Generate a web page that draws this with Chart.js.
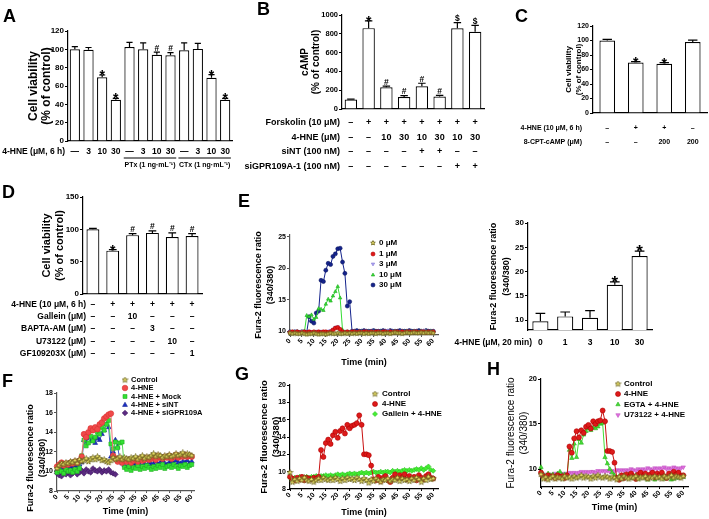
<!DOCTYPE html>
<html>
<head>
<meta charset="utf-8">
<script src="https://cdn.jsdelivr.net/npm/chart.js@4.4.1/dist/chart.umd.min.js"></script>
<style>
  html, body { margin: 0; padding: 0; background: #fff; }
  #fig { position: relative; width: 709px; height: 519px; overflow: hidden; background: #fff; }
  #fig canvas { position: absolute; }
  .tag { position: absolute; font: bold 18px "Liberation Sans", Arial, sans-serif; line-height: 18px; color: #000; }
</style>
</head>
<body>
<div id="fig"></div>
<script>
const FONT = '"Liberation Sans", Arial, sans-serif';
Chart.defaults.font.family = FONT;
Chart.defaults.color = "#000";

// ---- A: cell viability, toxins ----
const aDoseLabels = ["—", "3", "10", "30", "—", "3", "10", "30", "—", "3", "10", "30"];
const aValues = [100, 99.5, 69.5, 45, 102.5, 100, 94, 93.5, 99, 100.5, 69, 45];
const aErrors = [3, 2.5, 2.5, 1.5, 5, 7, 3, 3, 8, 6, 3.5, 1.5];
const aMarks = ["", "", "*", "*", "", "", "#", "#", "", "", "*", "*"];

// ---- B: cAMP ----
const bValues = [100, 860, 232, 128, 242, 132, 858, 822];
const bErrors = [5, 78, 12, 14, 32, 14, 60, 68];
const bMarks = ["", "*", "#", "#", "#", "#", "$", "$"];
const forskolinRow = ["–", "+", "+", "+", "+", "+", "+", "+"];
const bHneRow = ["–", "–", "10", "30", "10", "30", "10", "30"];
const siNTRow = ["–", "–", "–", "–", "+", "+", "–", "–"];
const siGPRRow = ["–", "–", "–", "–", "–", "–", "+", "+"];

// ---- C: 8-CPT-cAMP ----
const cValues = [100, 69.5, 68, 98];
const cErrors = [1.5, 1.5, 1.5, 2.5];
const cMarks = ["", "*", "*", ""];
const cHneRow = ["–", "+", "+", "–"];
const cCptRow = ["–", "–", "200", "200"];

// ---- D: inhibitors ----
const dValues = [100, 67, 91, 94.5, 88, 89.5];
const dErrors = [1.5, 1.5, 2.5, 3, 6.5, 4];
const dMarks = ["", "*", "#", "#", "#", "#"];
const dHneRow = ["–", "+", "+", "+", "+", "+"];
const galleinRow = ["–", "–", "10", "–", "–", "–"];
const baptaRow = ["–", "–", "–", "3", "–", "–"];
const u73122Row = ["–", "–", "–", "–", "10", "–"];
const gfRow = ["–", "–", "–", "–", "–", "1"];

// ---- E right: peak Fura-2 ratio ----
const eBarLabels = ["0", "1", "3", "10", "30"];
const eBarValues = [9.8, 10.8, 10.5, 17.3, 23.2];
const eBarErrors = [1.6, 0.9, 1.5, 0.6, 1.0];
const eBarMarks = ["", "", "", "*", "*"];
const eBarTicks = [10, 15, 20, 25, 30];

// ---- time courses (one reading per minute) ----
const timeMin = [0, 1, 2, 3, 4, 5, 6, 7, 8, 9, 10, 11, 12, 13, 14, 15, 16, 17, 18, 19, 20,
  21, 22, 23, 24, 25, 26, 27, 28, 29, 30, 31, 32, 33, 34, 35, 36, 37, 38, 39, 40,
  41, 42, 43, 44, 45, 46, 47, 48, 49, 50, 51, 52, 53, 54, 55, 56, 57, 58, 59, 60];
const timeTicks = [0, 5, 10, 15, 20, 25, 30, 35, 40, 45, 50, 55, 60];
const eLineTicks = [10, 15, 20, 25];
const hTicks = [10, 15, 20];

const e0 = [9.7, 9.6, 9.7, 9.6, 9.6, 9.7, 9.6, 9.5, 9.6, 9.6,
  9.7, 9.6, 9.5, 9.6, 9.6, 9.5, 9.6, 9.7, 9.6, 9.6,
  9.7, 9.6, 9.6, 9.7, 9.6, 9.7, 9.6, 9.7, 9.6, 9.7,
  9.7, 9.6, 9.7, 9.6, 9.7, 9.7, 9.6, 9.7, 9.7, 9.6,
  9.7, 9.7, 9.6, 9.7, 9.8, 9.7, 9.7, 9.6, 9.7, 9.8,
  9.7, 9.7, 9.8, 9.7, 9.7, 9.8, 9.7, 9.8, 9.7, 9.8, 9.7];
const e1 = [9.8, 9.9, 9.8, 9.9, 9.8, 9.8, 9.9, 9.8, 9.9, 9.8,
  9.9, 9.8, 9.9, 9.8, 9.9, 9.9, 9.8, 9.9, 10.2, 10.5,
  10.6, 10.3, 9.9, 9.8, 9.9, 9.8, 9.9, 9.9, 9.8, 9.9,
  9.8, 9.9, 9.9, 9.8, 9.9, 9.8, 9.9, 9.9, 9.8, 9.9,
  9.9, 9.8, 9.9, 9.8, 9.9, 9.9, 9.8, 9.9, 9.8, 9.9,
  9.9, 9.8, 9.9, 9.9, 9.8, 9.9, 9.9, 9.8, 9.9, 9.8, 9.9];
const e3 = [9.9, 9.9, 10.0, 9.9, 9.9, 10.0, 9.9, 9.9, 10.0, 9.9,
  9.9, 10.0, 9.9, 10.0, 9.9, 9.9, 10.0, 10.1, 10.3, 10.6,
  10.7, 10.2, 10.0, 9.9, 10.0, 9.9, 10.0, 10.0, 9.9, 10.0,
  9.9, 10.0, 10.0, 9.9, 10.0, 10.0, 9.9, 10.0, 9.9, 10.0,
  10.0, 10.1, 9.9, 10.0, 10.0, 9.9, 10.0, 10.0, 9.9, 10.0,
  10.0, 9.9, 10.0, 10.0, 9.9, 10.0, 10.1, 10.0, 9.9, 10.0, 10.0];
const e10 = [9.8, 9.9, 9.8, 9.9, 9.8, 9.9, 9.8, 12.5, 12.3, 12.6,
  11.9, 12.2, 13.6, 13.5, 13.3, 14.3, 15.1, 14.8, 15.6, 16.3,
  17.1, 15.3, 10.2, 9.9, 9.9, 9.8, 9.9, 9.9, 9.8, 9.9,
  9.9, 9.8, 9.9, 9.9, 9.8, 9.9, 9.9, 9.8, 9.9, 9.9,
  9.8, 9.9, 9.9, 9.8, 9.9, 9.9, 9.8, 9.9, 9.9, 9.8,
  9.9, 9.9, 9.8, 9.9, 9.9, 9.8, 9.9, 9.9, 9.8, 9.9, 9.9];
const e30 = [9.9, 9.8, 9.9, 9.9, 9.8, 9.9, 9.9, 9.8, 12.3, 11.6,
  11.3, 12.9, 13.2, 18.1, 17.9, 19.7, 20.8, 20.6, 21.9, 22.3,
  23.1, 23.2, 21.0, 19.2, 14.0, 14.7, 10.0, 10.0, 10.1, 10.0,
  10.0, 10.1, 10.0, 10.0, 10.0, 10.1, 10.0, 10.0, 10.0, 10.1,
  10.0, 10.0, 10.1, 10.0, 10.0, 10.0, 10.1, 10.0, 10.0, 10.0,
  10.1, 10.0, 10.0, 10.0, 10.1, 10.0, 10.0, 10.1, 10.0, 10.0, 10.0];

const fCtl = [10.3, 10.6, 10.8, 10.7, 10.9, 10.8, 11.0, 10.9, 11.1, 10.8,
  11.2, 11.0, 11.1, 11.3, 11.0, 11.2, 11.4, 11.2, 11.5, 11.3,
  11.1, 11.2, 11.0, 10.9, 11.1, 11.4, 11.2, 11.3, 11.5, 11.2,
  11.4, 11.3, 11.2, 11.4, 11.3, 11.5, 11.2, 11.4, 11.6, 11.3,
  11.5, 11.4, 11.6, 11.8, 11.5, 11.7, 11.6, 11.4, 11.6, 11.5,
  11.7, 11.5, 11.6, 11.8, 11.6, 11.7, 11.9, 11.6, 11.8, 11.7, 11.6];
const fHne = [10.5, 10.7, 10.9, 10.6, 10.8, 10.7, 10.9, 10.8, 11.0, 10.9,
  11.1, 11.5, 13.8, 13.5, 14.0, 14.4, 14.2, 14.5, 14.3, 14.8,
  15.0, 15.4, 15.6, 15.8, 15.9, 11.6, 11.3, 11.0, 11.2, 10.9,
  11.1, 11.0, 11.2, 10.9, 11.1, 11.2, 11.0, 11.3, 11.1, 11.2,
  11.4, 11.2, 11.3, 11.5, 11.2, 11.6, 11.4, 11.3, 11.5, 11.4,
  11.6, 11.3, 11.5, 11.7, 11.4, 11.6, 11.5, 11.7, 11.5, 11.6, 11.5];
const fMock = [9.9, 10.1, 10.0, 9.8, 10.2, 10.0, 10.1, 9.9, 10.2, 10.0,
  10.3, 11.6, 13.2, 12.6, 12.9, 13.6, 13.1, 13.5, 14.0, 13.8,
  14.5, 14.2, 14.8, 15.2, 12.8, 12.3, 13.0, 12.4, 12.9, 13.0,
  10.4, 10.2, 10.5, 10.1, 10.4, 10.3, 10.6, 10.2, 10.5, 10.3,
  10.6, 10.4, 10.2, 10.5, 10.3, 10.6, 10.4, 10.7, 10.3, 10.5,
  10.6, 10.4, 10.7, 10.5, 10.3, 10.6, 10.5, 10.7, 10.4, 10.6, 10.7];
const fSiNT = [10.2, 10.0, 10.3, 10.1, 10.4, 10.2, 10.5, 10.3, 10.6, 10.4,
  10.7, 10.9, 13.2, 13.0, 13.4, 13.1, 13.3, 12.9, 13.4, 13.2,
  13.8, 14.2, 14.8, 14.5, 11.5, 12.0, 13.2, 12.5, 11.2, 10.8,
  10.6, 10.4, 10.7, 10.5, 10.8, 10.6, 10.9, 10.7, 10.5, 10.8,
  10.6, 10.9, 10.7, 10.8, 11.0, 10.7, 10.9, 11.1, 10.8, 10.7,
  10.9, 11.0, 10.8, 11.1, 10.9, 10.8, 11.0, 10.9, 11.1, 10.8, 11.0];
const fSiGPR = [9.8, 9.6, 9.5, 9.8, 9.7, 9.9, 9.6, 9.8, 10.0, 9.7,
  9.9, 10.1, 9.8, 10.2, 10.0, 9.9, 10.3, 10.1, 10.0, 10.2,
  9.9, 10.1, 10.0, 10.2, 9.9, 9.8, 9.7];

const gCtl = [9.9, 8.8, 9.1, 8.9, 9.2, 9.0, 9.3, 9.0, 8.9, 9.1,
  8.8, 9.0, 9.2, 9.0, 9.3, 9.1, 9.0, 9.2, 9.0, 9.3,
  9.1, 8.9, 9.2, 9.0, 9.3, 9.1, 9.2, 9.0, 9.3, 9.1,
  8.9, 9.2, 9.0, 8.7, 9.1, 8.9, 9.2, 9.0, 8.8, 9.1,
  9.0, 9.2, 8.9, 9.1, 9.0, 9.3, 8.9, 9.2, 9.0, 9.1,
  8.9, 9.2, 9.0, 9.3, 9.1, 8.8, 9.2, 9.0, 9.4, 9.1, 9.2];
const gHne = [9.4, 9.2, 9.0, 9.3, 9.1, 9.4, 9.0, 9.3, 9.2, 9.1,
  9.3, 9.2, 9.4, 12.5, 11.7, 13.3, 13.7, 13.2, 14.2, 14.6,
  13.9, 14.7, 15.0, 14.4, 15.4, 15.0, 15.3, 15.4, 15.6, 16.5,
  15.4, 12.0, 12.0, 11.9, 10.7, 9.1, 9.0, 9.4, 8.9, 9.3,
  9.5, 9.0, 8.8, 9.3, 9.7, 9.2, 9.6, 9.3, 9.7, 9.1,
  9.5, 9.2, 9.4, 9.0, 9.6, 9.3, 9.1, 9.5, 9.7, 9.3, 9.2];
const gGal = [9.3, 9.2, 9.3, 9.2, 9.4, 9.3, 9.3, 9.4, 9.3, 9.4,
  9.4, 9.5, 9.4, 9.5, 9.5, 9.6, 9.5, 9.6, 9.5, 9.6,
  9.7, 9.6, 9.7, 9.6, 9.7, 9.8, 9.7, 9.8, 9.7, 9.8,
  9.9, 9.8, 9.9, 9.8, 9.9, 10.0, 9.9, 9.9, 10.0, 9.9,
  10.0, 10.0, 9.9, 10.1, 10.0, 10.1, 10.0, 10.1, 10.2, 10.1,
  10.2, 10.1, 10.2, 10.3, 10.2, 10.4, 10.2, 10.4, 10.6, 10.2, 10.1];

const hCtl = [9.4, 8.9, 9.1, 8.8, 9.0, 9.2, 8.9, 9.1, 9.0, 8.9,
  9.2, 9.0, 9.1, 8.9, 9.2, 9.0, 9.1, 9.3, 9.0, 9.2,
  9.1, 8.9, 9.2, 9.0, 9.3, 9.1, 9.0, 9.2, 9.1, 8.9,
  9.1, 9.0, 8.8, 9.1, 8.9, 9.2, 9.0, 8.9, 9.1, 9.0,
  9.2, 8.9, 9.1, 9.0, 9.2, 8.9, 9.1, 9.0, 9.2, 9.0,
  9.1, 8.9, 9.2, 9.0, 9.1, 9.3, 9.0, 9.2, 9.1, 9.0, 9.2];
const hHne = [9.6, 9.2, 9.0, 9.3, 9.1, 9.2, 9.0, 9.3, 9.1, 9.2,
  9.0, 9.3, 12.5, 11.8, 13.4, 14.2, 13.5, 14.3, 14.0, 14.7,
  14.9, 14.5, 15.3, 15.0, 15.3, 15.4, 16.5, 15.3, 12.0, 12.0,
  11.9, 10.7, 9.0, 8.8, 9.3, 9.0, 9.4, 9.1, 9.5, 9.2,
  8.9, 9.4, 9.6, 9.2, 9.5, 9.0, 9.4, 9.6, 9.1, 9.5,
  9.3, 9.6, 9.2, 9.0, 9.5, 9.3, 9.7, 9.4, 9.6, 9.2, 9.3];
const hEgta = [10.2, 9.4, 9.2, 9.5, 9.3, 9.4, 9.2, 9.5, 9.7, 9.3,
  9.4, 9.2, 12.1, 11.2, 12.8, 11.3, 13.3, 12.9, 13.8, 14.2,
  14.5, 14.3, 14.6, 14.5, 14.7, 15.0, 15.1, 11.3, 10.6, 10.0,
  9.6, 9.3, 9.0, 9.2, 8.9, 9.3, 9.1, 9.4, 9.0, 9.2,
  9.3, 8.9, 9.2, 9.4, 9.0, 8.8, 9.3, 9.1, 8.8, 9.2,
  9.0, 9.4, 8.9, 9.1, 9.3, 8.8, 8.9, 9.2, 9.0, 9.3, 9.1];
const hU73 = [9.3, 9.2, 9.4, 9.3, 9.4, 9.3, 9.5, 9.4, 9.5, 9.4,
  9.5, 9.4, 9.6, 9.5, 9.6, 9.5, 9.6, 9.7, 9.6, 9.7,
  9.6, 9.7, 9.7, 9.6, 9.8, 9.7, 9.8, 9.7, 9.8, 9.7,
  9.8, 9.7, 9.9, 9.8, 9.9, 9.8, 9.9, 9.8, 10.0, 9.9,
  9.8, 10.0, 9.9, 10.0, 9.9, 10.1, 10.0, 9.9, 10.1, 10.0,
  10.1, 10.0, 10.2, 10.0, 10.1, 10.0, 10.2, 10.1, 10.0, 10.1, 10.2];

const fig = document.getElementById("fig");

function addCanvas(r) {
  const c = document.createElement("canvas");
  c.width = r.w;
  c.height = r.h;
  c.style.left = r.x + "px";
  c.style.top = r.y + "px";
  c.style.width = r.w + "px";
  c.style.height = r.h + "px";
  fig.appendChild(c);
  return c;
}

// fixes axis box sizes so the plot area lands where the reference has it
function frame(cv, area, yTitle, xTitle) {
  const yLeft = yTitle.x - yTitle.lh / 2;
  const yW = area.l - yLeft;
  const xH = xTitle ? xTitle.y + xTitle.lh / 2 - area.b : 0;
  const zero = (s) => { s.paddingLeft = s.paddingRight = s.paddingTop = s.paddingBottom = 0; };
  return {
    padding: { left: yLeft - cv.x, top: area.t - cv.y, right: cv.x + cv.w - area.r, bottom: cv.y + cv.h - area.b - xH },
    yFit: (s) => { s.width = yW; zero(s); },
    xFit: (s) => { s.height = xH; zero(s); },
  };
}

function yAxis(p, f) {
  const color = p.axisColor || "#000";
  const ax = {
    min: p.yMin,
    max: p.yMax,
    ticks: { stepSize: p.yStep, autoSkip: false, padding: 1, color: "#000",
      font: { size: p.tickSize, weight: "bold" }, callback: (v) => String(v) },
    grid: { drawOnChartArea: false, drawTicks: true, tickLength: 3, color: color, lineWidth: 1 },
    border: { display: true, color: color, width: 1.2 },
    title: { display: false },
    afterFit: f.yFit,
  };
  if (p.yTicks) ax.afterBuildTicks = (s) => { s.ticks = p.yTicks.map((v) => ({ value: v })); };
  return ax;
}

// rotated two-line y title; centred on the axis unless cy is given
function sideTitle(p) {
  const t = p.yTitle, ox = p.cv.x, oy = p.cv.y;
  return {
    id: "sideTitle",
    afterDraw(chart) {
      const ctx = chart.ctx;
      const a = chart.chartArea;
      const cy = t.cy !== undefined ? t.cy - oy : (a.top + a.bottom) / 2;
      ctx.save();
      ctx.font = (t.weight || "bold") + " " + t.size + "px " + FONT;
      ctx.fillStyle = "#000";
      ctx.textAlign = "center";
      ctx.textBaseline = "middle";
      t.text.forEach((line, i) => {
        ctx.save();
        ctx.translate(t.x - ox + i * t.lh, cy);
        ctx.rotate(-Math.PI / 2);
        ctx.fillText(line, 0, 0);
        ctx.restore();
      });
      ctx.restore();
    },
  };
}

function errorBars(errors, marks, markSize) {
  return {
    id: "errorBars",
    afterDatasetsDraw(chart) {
      const ctx = chart.ctx;
      const y = chart.scales.y;
      const vals = chart.data.datasets[0].data;
      ctx.save();
      ctx.strokeStyle = "#000";
      ctx.fillStyle = "#000";
      ctx.lineWidth = 1.2;
      ctx.textAlign = "center";
      ctx.textBaseline = "alphabetic";
      chart.getDatasetMeta(0).data.forEach((bar, i) => {
        const top = y.getPixelForValue(vals[i] + errors[i]);
        const hw = bar.width * 0.3;
        ctx.beginPath();
        ctx.moveTo(bar.x, bar.y);
        ctx.lineTo(bar.x, top);
        ctx.moveTo(bar.x - hw, top);
        ctx.lineTo(bar.x + hw, top);
        ctx.stroke();
        const m = marks[i];
        if (m === "*") {
          ctx.font = "bold " + markSize + "px " + FONT;
          ctx.fillText(m, bar.x, top + markSize * 0.36);
        } else if (m) {
          ctx.font = "bold 8.5px " + FONT;
          ctx.fillText(m, bar.x, top - 1.5);
        }
      });
      ctx.restore();
    },
  };
}

// the +/- treatment table under a bar chart
function tableRows(p) {
  const ox = p.cv.x, oy = p.cv.y;
  return {
    id: "tableRows",
    afterDraw(chart) {
      const ctx = chart.ctx;
      const x = chart.scales.x;
      ctx.save();
      ctx.fillStyle = "#000";
      ctx.strokeStyle = "#000";
      ctx.textBaseline = "middle";
      ctx.font = p.rowFont;
      p.rows.forEach((r) => {
        ctx.textAlign = "right";
        ctx.fillText(r.label, p.labelX - ox, r.y - oy);
        ctx.textAlign = "center";
        r.cells.forEach((c, i) => ctx.fillText(c, x.getPixelForValue(i), r.y - oy));
      });
      if (p.groups) {
        const half = (x.getPixelForValue(1) - x.getPixelForValue(0)) * 0.42;
        ctx.font = p.groupFont;
        ctx.lineWidth = 1;
        p.groups.forEach((g) => {
          const x0 = x.getPixelForValue(g.from) - half;
          const x1 = x.getPixelForValue(g.to) + half;
          ctx.beginPath();
          ctx.moveTo(x0, p.groupLineY - oy);
          ctx.lineTo(x1, p.groupLineY - oy);
          ctx.stroke();
          ctx.fillText(g.text, (x0 + x1) / 2, p.groupTextY - oy);
        });
      }
      ctx.restore();
    },
  };
}

function barChart(p) {
  const canvas = addCanvas(p.cv);
  const f = frame(p.cv, p.area, p.yTitle, null);
  return new Chart(canvas, {
    type: "bar",
    data: {
      labels: p.labels,
      datasets: [{ data: p.values, backgroundColor: "#fff", borderColor: "#000", borderWidth: 1.2,
        barPercentage: p.barPct, categoryPercentage: 1 }],
    },
    options: {
      responsive: false,
      animation: false,
      events: [],
      layout: { padding: f.padding },
      plugins: { legend: { display: false }, tooltip: { enabled: false } },
      scales: {
        x: { ticks: { display: false }, grid: { display: false },
          border: { display: true, color: "#000", width: 1.2 }, afterFit: f.xFit },
        y: yAxis(p, f),
      },
    },
    plugins: [errorBars(p.errors, p.marks, p.markSize), tableRows(p), sideTitle(p)],
  });
}

function starImage(size, fill, stroke) {
  const c = document.createElement("canvas");
  c.width = c.height = size;
  const g = c.getContext("2d");
  const r = size / 2 - 0.6;
  const m = size / 2;
  g.beginPath();
  for (let k = 0; k < 10; k++) {
    const a = -Math.PI / 2 + (k * Math.PI) / 5;
    const rr = k % 2 ? r * 0.45 : r;
    g.lineTo(m + rr * Math.cos(a), m + rr * Math.sin(a));
  }
  g.closePath();
  g.fillStyle = fill;
  g.fill();
  g.strokeStyle = stroke;
  g.lineWidth = 0.9;
  g.stroke();
  return c;
}

function markerLegend(p) {
  const ox = p.cv.x, oy = p.cv.y;
  const L = p.legend;
  return {
    id: "markerLegend",
    afterDraw(chart) {
      const ctx = chart.ctx;
      chart.data.datasets.forEach((ds, i) => {
        const y = L.ys[i] - oy;
        ctx.save();
        ctx.fillStyle = ds.pointBackgroundColor;
        ctx.strokeStyle = ds.pointBorderColor;
        ctx.lineWidth = ds.pointBorderWidth;
        Chart.helpers.drawPoint(ctx, { pointStyle: ds.pointStyle, rotation: ds.pointRotation,
          radius: ds.pointRadius, borderWidth: ds.pointBorderWidth }, L.x - ox, y);
        ctx.fillStyle = "#000";
        ctx.font = L.font;
        ctx.textAlign = "left";
        ctx.textBaseline = "middle";
        ctx.fillText(ds.label, L.textX - ox, y);
        ctx.restore();
      });
    },
  };
}

function timeChart(p) {
  const canvas = addCanvas(p.cv);
  const f = frame(p.cv, p.area, p.yTitle, p.xTitle);
  const axisColor = p.axisColor || "#000";
  return new Chart(canvas, {
    type: "line",
    data: {
      datasets: p.series.map((s) => ({
        label: s.label,
        data: s.values.map((v, i) => ({ x: timeMin[i], y: v })),
        borderColor: s.line,
        borderWidth: 1,
        pointStyle: s.style,
        pointRotation: s.rot || 0,
        pointRadius: p.radius,
        pointBackgroundColor: s.fill,
        pointBorderColor: s.edge,
        pointBorderWidth: 0.6,
        tension: 0,
        fill: false,
        clip: false,
      })),
    },
    options: {
      responsive: false,
      animation: false,
      events: [],
      layout: { padding: f.padding },
      plugins: { legend: { display: false }, tooltip: { enabled: false } },
      scales: {
        x: {
          type: "linear",
          min: 0,
          max: p.xMax,
          afterBuildTicks: (s) => { s.ticks = timeTicks.map((v) => ({ value: v })); },
          ticks: { minRotation: 45, maxRotation: 45, autoSkip: false, padding: 0, color: "#000",
            font: { size: 7, weight: "bold" } },
          grid: { drawOnChartArea: false, drawTicks: true, tickLength: 2, color: axisColor },
          border: { display: true, color: axisColor, width: 1.2 },
          title: { display: true, text: "Time (min)", color: "#000", padding: 0,
            font: { size: p.xTitle.size, weight: "bold", lineHeight: p.xTitle.lh + "px" } },
          afterFit: f.xFit,
        },
        y: yAxis(p, f),
      },
    },
    plugins: [markerLegend(p), sideTitle(p)],
  });
}

// marker styles
const ctlStar = starImage(7, "#efe66a", "#6f6820");
const ctlStarSmall = starImage(6, "#efe66a", "#6f6820");
const OLIVE = "#a39a45";
const fura = ["Fura-2 fluorescence ratio", "(340/380)"];
const viability = ["Cell viability", "(% of control)"];

barChart({
  cv: { x: 0, y: 22, w: 236, h: 153 },
  area: { l: 68, t: 31, r: 232, b: 141 },
  yTitle: { x: 34, lh: 13, size: 12, text: viability },
  yMin: 0, yMax: 120, yStep: 20, tickSize: 8,
  labels: aDoseLabels, values: aValues, errors: aErrors, marks: aMarks, markSize: 14, barPct: 0.75,
  rows: [{ label: "4-HNE (μM, 6 h)", cells: aDoseLabels, y: 152 }],
  labelX: 65, rowFont: "bold 8.5px " + FONT,
  groups: [{ from: 4, to: 7, text: "PTx (1 ng·mL⁻¹)" }, { from: 8, to: 11, text: "CTx (1 ng·mL⁻¹)" }],
  groupLineY: 158, groupTextY: 165, groupFont: "bold 7px " + FONT,
});

barChart({
  cv: { x: 236, y: 0, w: 254, h: 178 },
  area: { l: 342, t: 15, r: 484, b: 109 },
  yTitle: { x: 305, lh: 11, size: 10, text: ["cAMP", "(% of control)"] },
  yMin: 0, yMax: 1000, yStep: 200, tickSize: 7.5,
  labels: bHneRow, values: bValues, errors: bErrors, marks: bMarks, markSize: 14, barPct: 0.7,
  rows: [
    { label: "Forskolin (10 μM)", cells: forskolinRow, y: 123 },
    { label: "4-HNE (μM)", cells: bHneRow, y: 138 },
    { label: "siNT (100 nM)", cells: siNTRow, y: 152 },
    { label: "siGPR109A-1 (100 nM)", cells: siGPRRow, y: 167 },
  ],
  labelX: 340, rowFont: "bold 9px " + FONT,
});

barChart({
  cv: { x: 490, y: 12, w: 219, h: 140 },
  area: { l: 593, t: 26, r: 707, b: 113 },
  yTitle: { x: 569, lh: 10, size: 8, text: viability },
  yMin: 0, yMax: 120, yStep: 20, tickSize: 7,
  labels: cCptRow, values: cValues, errors: cErrors, marks: cMarks, markSize: 14, barPct: 0.55,
  rows: [
    { label: "4-HNE (10 μM, 6 h)", cells: cHneRow, y: 128 },
    { label: "8-CPT-cAMP (μM)", cells: cCptRow, y: 142 },
  ],
  labelX: 582, rowFont: "bold 7px " + FONT,
});

barChart({
  cv: { x: 0, y: 182, w: 236, h: 180 },
  area: { l: 83, t: 197, r: 202, b: 294 },
  yTitle: { x: 47, lh: 13, size: 11, text: viability },
  yMin: 0, yMax: 150, yStep: 50, tickSize: 8,
  labels: dHneRow, values: dValues, errors: dErrors, marks: dMarks, markSize: 14, barPct: 0.65,
  rows: [
    { label: "4-HNE (10 μM, 6 h)", cells: dHneRow, y: 305 },
    { label: "Gallein (μM)", cells: galleinRow, y: 317 },
    { label: "BAPTA-AM (μM)", cells: baptaRow, y: 329 },
    { label: "U73122 (μM)", cells: u73122Row, y: 342 },
    { label: "GF109203X (μM)", cells: gfRow, y: 354 },
  ],
  labelX: 86, rowFont: "bold 8.5px " + FONT,
});

barChart({
  cv: { x: 440, y: 205, w: 269, h: 150 },
  area: { l: 528, t: 223, r: 652, b: 330 },
  yTitle: { x: 494, lh: 12.5, size: 9, text: fura },
  yMin: 8, yMax: 30, yTicks: eBarTicks, tickSize: 8,
  labels: eBarLabels, values: eBarValues, errors: eBarErrors, marks: eBarMarks, markSize: 17, barPct: 0.65,
  rows: [{ label: "4-HNE (μM, 20 min)", cells: eBarLabels, y: 343 }],
  labelX: 532, rowFont: "bold 8.5px " + FONT,
});

timeChart({
  cv: { x: 236, y: 220, w: 214, h: 152 },
  area: { l: 290, t: 235, r: 438, b: 335 },
  yTitle: { x: 259, lh: 12, size: 9, text: fura },
  xTitle: { y: 363, lh: 10, size: 9 },
  yMin: 9.4, yMax: 25.3, yTicks: eLineTicks, tickSize: 7, xMax: 62, radius: 2,
  axisColor: "#555",
  series: [
    { label: "0 μM", values: e0, style: ctlStarSmall, fill: "#efe66a", edge: "#6f6820", line: OLIVE },
    { label: "1 μM", values: e1, style: "circle", fill: "#e01818", edge: "#b00000", line: "#e01818" },
    { label: "3 μM", values: e3, style: "triangle", rot: 180, fill: "#aaa0ee", edge: "#8c80d8", line: "#aaa0ee" },
    { label: "10 μM", values: e10, style: "triangle", fill: "#33dd33", edge: "#22aa22", line: "#33dd33" },
    { label: "30 μM", values: e30, style: "circle", fill: "#14238c", edge: "#0c1660", line: "#14238c" },
  ],
  legend: { x: 373, textX: 379, ys: [243, 254, 264, 275, 285], font: "bold 8px " + FONT },
});

timeChart({
  cv: { x: 0, y: 368, w: 236, h: 151 },
  area: { l: 57, t: 393, r: 194, b: 491 },
  yTitle: { x: 31, lh: 11.5, size: 9, cy: 458, text: fura },
  xTitle: { y: 512, lh: 10, size: 9 },
  yMin: 8, yMax: 18, yStep: 2, tickSize: 7, xMax: 61, radius: 2.8,
  axisColor: "#555",
  series: [
    { label: "Control", values: fCtl, style: ctlStar, fill: "#efe66a", edge: "#6f6820", line: "#c2bb7c" },
    { label: "4-HNE", values: fHne, style: "circle", fill: "#f04a4a", edge: "#d83030", line: "#f07070" },
    { label: "4-HNE + Mock", values: fMock, style: "rect", fill: "#33e033", edge: "#22b022", line: "#55dd55" },
    { label: "4-HNE + siNT", values: fSiNT, style: "triangle", fill: "#1a2fc8", edge: "#10208a", line: "#4050c8" },
    { label: "4-HNE + siGPR109A", values: fSiGPR, style: "rectRot", fill: "#5b2a82", edge: "#401a60", line: "#7a4a9a" },
  ],
  legend: { x: 125, textX: 131, ys: [380, 388, 396.5, 405, 413], font: "bold 7.5px " + FONT },
});

timeChart({
  cv: { x: 236, y: 368, w: 234, h: 151 },
  area: { l: 290, t: 385, r: 438, b: 489 },
  yTitle: { x: 264, lh: 12.5, size: 9.5, text: fura },
  xTitle: { y: 512.5, lh: 10, size: 9 },
  yMin: 8, yMax: 20, yStep: 2, tickSize: 7, xMax: 62, radius: 2.5,
  series: [
    { label: "Control", values: gCtl, style: ctlStar, fill: "#efe66a", edge: "#6f6820", line: OLIVE },
    { label: "4-HNE", values: gHne, style: "circle", fill: "#dd1a1a", edge: "#b00000", line: "#c81010" },
    { label: "Gallein + 4-HNE", values: gGal, style: "rectRot", fill: "#44ee33", edge: "#2cc020", line: "#44ee33" },
  ],
  legend: { x: 375, textX: 382, ys: [394, 404, 414], font: "bold 8px " + FONT },
});

timeChart({
  cv: { x: 470, y: 362, w: 239, h: 157 },
  area: { l: 541, t: 379, r: 688, b: 487 },
  yTitle: { x: 511, lh: 13, size: 10, weight: "normal", text: fura },
  xTitle: { y: 508, lh: 10, size: 9 },
  yMin: 8, yMax: 20, yTicks: hTicks, tickSize: 7.5, xMax: 62, radius: 2.5,
  series: [
    { label: "Control", values: hCtl, style: ctlStar, fill: "#efe66a", edge: "#6f6820", line: OLIVE },
    { label: "4-HNE", values: hHne, style: "circle", fill: "#dd1a1a", edge: "#b00000", line: "#c81010" },
    { label: "EGTA + 4-HNE", values: hEgta, style: "triangle", fill: "#44dd33", edge: "#2cb020", line: "#44dd33" },
    { label: "U73122 + 4-HNE", values: hU73, style: "triangle", rot: 180, fill: "#e070e0", edge: "#c050c0", line: "#e070e0" },
  ],
  legend: { x: 618, textX: 624, ys: [384, 394, 404.5, 415], font: "bold 8px " + FONT },
});

// panel letters
const panelTags = [["A", 3, 22], ["B", 257, 15], ["C", 515, 22], ["D", 2, 198],
  ["E", 238, 207], ["F", 2, 387], ["G", 235, 380], ["H", 487, 375]];
panelTags.forEach(([t, x, base]) => {
  const d = document.createElement("div");
  d.className = "tag";
  d.textContent = t;
  d.style.left = x + "px";
  d.style.top = base - 15 + "px";
  fig.appendChild(d);
});
</script>
</body>
</html>
